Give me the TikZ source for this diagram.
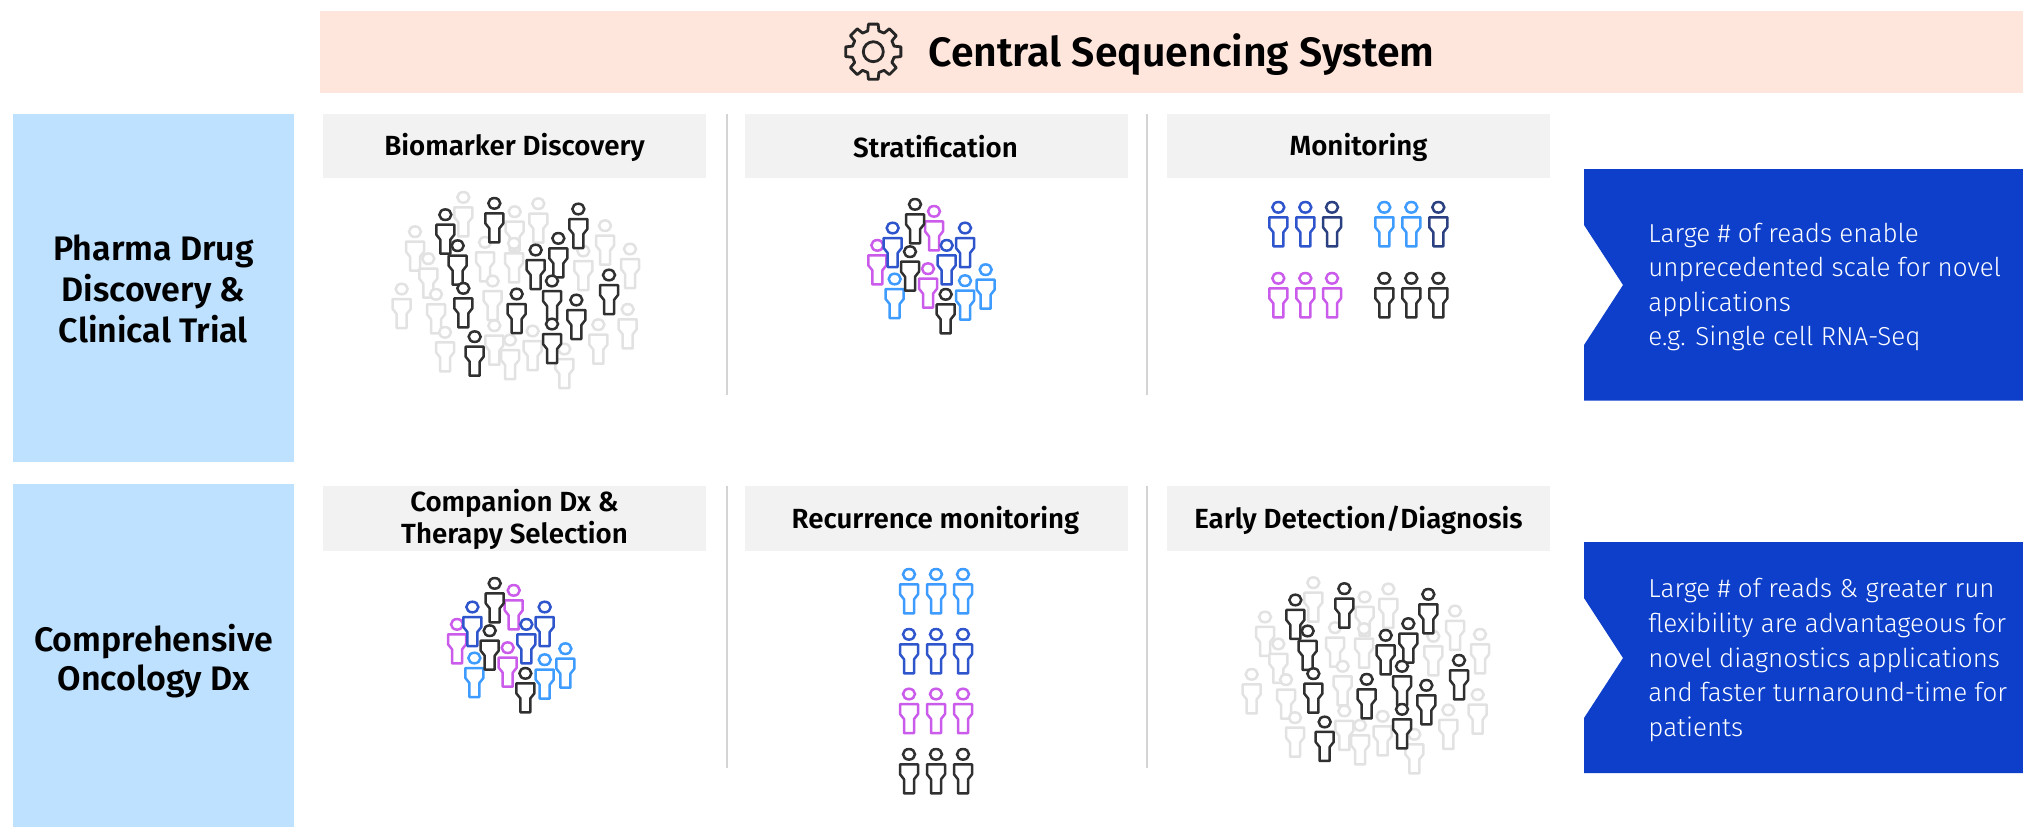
\documentclass[tikz,border=0pt]{standalone}
\usepackage{fontspec}
\setmainfont{Fira Sans}
\newfontfamily\headfont[UprightFont={* Medium},BoldFont={* SemiBold}]{Fira Sans}
\newfontfamily\bodyfont[UprightFont={* Light}]{Fira Sans}
\definecolor{peach}{HTML}{FFE6DC}
\definecolor{skyb}{HTML}{BDE1FE}
\definecolor{cell}{HTML}{F2F2F2}
\definecolor{deepb}{HTML}{0D3FCB}
\definecolor{divi}{HTML}{D4D4D4}
\definecolor{pgray}{HTML}{E2E2E2}
\definecolor{pblack}{HTML}{303030}
\definecolor{pblue}{HTML}{2F55CC}
\definecolor{plight}{HTML}{3E9BFF}
\definecolor{pmag}{HTML}{CB5CEB}
\definecolor{pnavy}{HTML}{2A4080}
\newcommand\prs[3]{\begin{scope}[shift={(#1,#2)}]
\draw[draw=#3,fill=white,line width=1.25pt,line join=round] (-9,10) -- (9,10) -- (9,20) -- (5,25) -- (5,39) -- (-5,39) -- (-5,25) -- (-9,20) -- cycle;
\draw[draw=#3,fill=white,line width=1.25pt] (0,0) ellipse [x radius=6,y radius=5.3];
\end{scope}}
\newcommand\crowd{%
\foreach \x/\y in {250/52,404/95,475/71,675/137,105/155,145/236,315/187,402/190,610/213,750/207,338/303,65/327,168/343,743/388,343/437,655/434,458/453,195/457,390/480,553/507}{\prs{\x/3}{\y/3}{pgray}}
\foreach \x/\y in {196/104,343/70,595/87,535/175,233/197,467/210,687/285,250/325,516/303,410/342,589/360,516/432,284/470}{\prs{\x/3}{\y/3}{pblack}}}
\newcommand\cluster{%
\foreach \x/\y/\c in {82/166/pmag,128/114/pblue,134/267/plight,252/64/pmag,195/43/pblack,180/185/pblack,234/236/pmag,290/166/pblue,345/114/pblue,407/239/plight,345/272/plight,287/313/pblack}{\prs{\x/3}{\y/3}{\c}}}
\tikzset{
  x=0.5pt,y=-0.5pt,
  headtxt/.style={font=\headfont\bfseries\fontsize{13.85}{16}\selectfont,inner sep=0,align=center,text=black},
  sidetxt/.style={font=\headfont\bfseries\fontsize{17}{20.7}\selectfont,inner sep=0,align=center,text=black},
  bodytxt/.style={font=\bodyfont\fontsize{13}{17.3}\selectfont,inner sep=0,align=left,anchor=west,text=white},
  divline/.style={draw=divi,line width=1pt}
}
\begin{document}
\begin{tikzpicture}
\useasboundingbox (0,0) rectangle (2023,827);
% top bar
\fill[peach] (320,11) rectangle (2023,93);
\begin{scope}[shift={(873.3,51.7)}]
\draw[black!85,line width=1.4pt,line join=round] (-15:21.5)
  \foreach \a in {0,45,...,315}{ -- (\a-10:28) -- (\a+10:28) -- (\a+15:21.5) -- (\a+30:21.5) } -- cycle;
\draw[black!85,line width=1.4pt] (0,0) circle [radius=10];
\end{scope}
\node[font=\headfont\bfseries\fontsize{20.5}{24}\selectfont,inner sep=0] (title) at (1181.5,54.5) {Central Sequencing System};
% side
\fill[skyb] (13,114) rectangle (294,462);
\fill[skyb] (13,484) rectangle (294,827);
\node[sidetxt] (pharma) at (153.5,289) {Pharma Drug\\Discovery \&\\Clinical Trial};
\node[sidetxt] (onco) at (153.5,661) {Comprehensive\\[-1.4pt]Oncology Dx};
% cells
\foreach \l in {323,745,1167}{
  \fill[cell] (\l,114) rectangle (\l+383,178);
  \fill[cell] (\l,486) rectangle (\l+383,551);
}
\node[headtxt] (h1) at (514.5,147) {Biomarker Discovery};
\node[headtxt] (h2) at (935.5,147) {Stratification};
\node[headtxt] (h3) at (1358.5,147) {Monitoring};
\node[headtxt] (h4) at (514.5,519.5) {Companion Dx \&\\Therapy Selection};
\node[headtxt] (h5) at (935.5,520.5) {Recurrence monitoring};
\node[headtxt] (h6) at (1358.5,520.5) {Early Detection/Diagnosis};
% dividers
\foreach \l in {727,1147}{
  \draw[divline] (\l,114) -- (\l,395);
  \draw[divline] (\l,486) -- (\l,768);
}
% crowds
\begin{scope}[shift={(380,180)}]\crowd\end{scope}
\begin{scope}[shift={(1230,565.3)}]\crowd\end{scope}
\begin{scope}[shift={(850,190)}]\cluster\end{scope}
\begin{scope}[shift={(429.7,569)}]\cluster\end{scope}
% monitoring
\foreach \x/\c in {1278.3/pblue,1305.3/pblue,1332/pnavy,1384.3/plight,1411.3/plight,1438.3/pnavy}{\prs{\x}{207.3}{\c}}
\foreach \x/\c in {1278.3/pmag,1305.3/pmag,1332/pmag,1384.3/pblack,1411.3/pblack,1438.3/pblack}{\prs{\x}{278.3}{\c}}
% recurrence
\foreach \y/\c in {574.3/plight,634.3/pblue,694/pmag,754.3/pblack}{
  \foreach \x in {909,936,963}{\prs{\x}{\y}{\c}}}
% right arrows
\fill[deepb] (1584,169) -- (2023,169) -- (2023,400.5) -- (1584,400.5) -- (1584,345) -- (1623,285) -- (1584,225) -- cycle;
\fill[deepb] (1584,542) -- (2023,542) -- (2023,773) -- (1584,773) -- (1584,718) -- (1623,658) -- (1584,598) -- cycle;
\node[bodytxt] (t1) at (1648,287) {Large \# of reads enable\\unprecedented scale for novel\\applications\\e.g. Single cell RNA-Seq};
\node[bodytxt] (t2) at (1648,660) {Large \# of reads \& greater run\\flexibility are advantageous for\\novel diagnostics applications\\and faster turnaround-time for\\patients};
\end{tikzpicture}
\end{document}
